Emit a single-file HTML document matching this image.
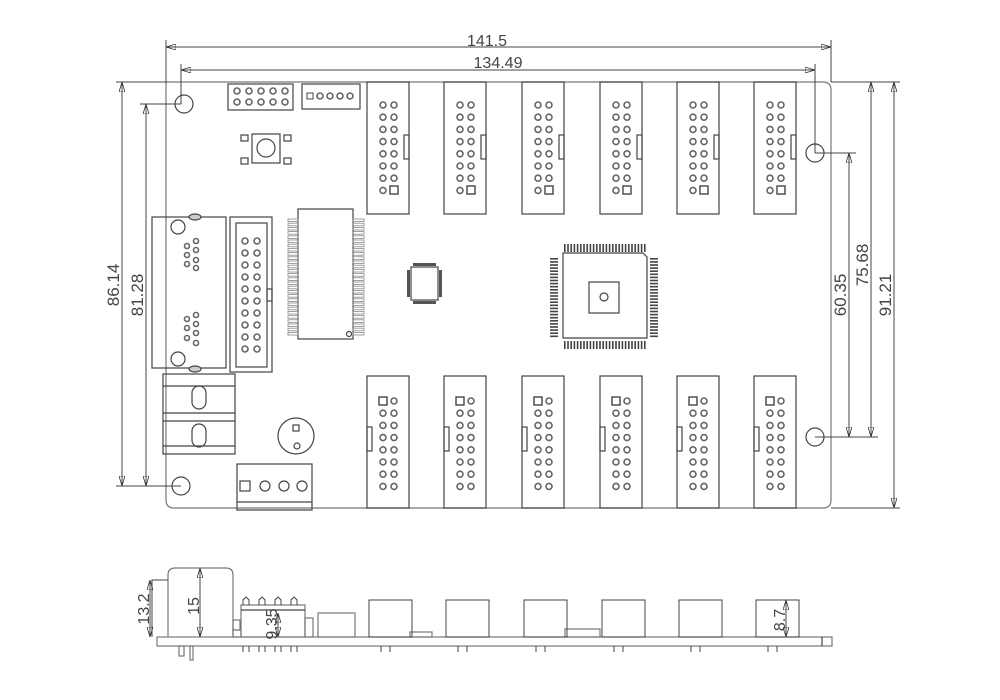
<!DOCTYPE html>
<html><head><meta charset="utf-8"><style>
html,body{margin:0;padding:0;background:#fff}
svg{display:block}
text{font-family:"Liberation Sans",sans-serif;fill:#444}
</style></head><body>
<svg id="s" width="1000" height="700" viewBox="0 0 1000 700" xmlns="http://www.w3.org/2000/svg">
<defs>
<marker id="a" viewBox="0 0 10 6" refX="10" refY="3" markerWidth="10" markerHeight="6" orient="auto-start-reverse" markerUnits="userSpaceOnUse"><path d="M0,0L10,3L0,6z" fill="none" stroke="#333" stroke-width="0.8"/></marker>
</defs>
<g fill="none" stroke="#444" stroke-width="1.2">
<path d="M166,82 H823 Q831,82 831,90 V500 Q831,508 823,508 H174 Q166,508 166,500 Z" stroke="#777"/>
<line x1="166" y1="40" x2="166" y2="82" stroke-width="1"/>
<line x1="831" y1="40" x2="831" y2="82" stroke-width="1"/>
<line x1="166" y1="47" x2="831" y2="47" stroke-width="1" marker-start="url(#a)" marker-end="url(#a)"/>
<line x1="181" y1="64" x2="181" y2="104" stroke-width="1"/>
<line x1="815" y1="64" x2="815" y2="153" stroke-width="1"/>
<line x1="181" y1="70" x2="815" y2="70" stroke-width="1" marker-start="url(#a)" marker-end="url(#a)"/>
<line x1="116" y1="82" x2="166" y2="82" stroke-width="1"/>
<line x1="116" y1="486" x2="181" y2="486" stroke-width="1"/>
<line x1="140" y1="104" x2="181" y2="104" stroke-width="1"/>
<line x1="122" y1="82" x2="122" y2="486" stroke-width="1" marker-start="url(#a)" marker-end="url(#a)"/>
<line x1="146" y1="104" x2="146" y2="486" stroke-width="1" marker-start="url(#a)" marker-end="url(#a)"/>
<line x1="815" y1="153" x2="856" y2="153" stroke-width="1"/>
<line x1="815" y1="437" x2="878" y2="437" stroke-width="1"/>
<line x1="831" y1="82" x2="900" y2="82" stroke-width="1"/>
<line x1="831" y1="508" x2="900" y2="508" stroke-width="1"/>
<line x1="849" y1="153" x2="849" y2="437" stroke-width="1" marker-start="url(#a)" marker-end="url(#a)"/>
<line x1="871" y1="82" x2="871" y2="437" stroke-width="1" marker-start="url(#a)" marker-end="url(#a)"/>
<line x1="894" y1="82" x2="894" y2="508" stroke-width="1" marker-start="url(#a)" marker-end="url(#a)"/>
<circle cx="184" cy="104" r="9"/><circle cx="815" cy="153" r="9"/>
<circle cx="181" cy="486" r="9"/><circle cx="815" cy="437" r="9"/>
<rect x="228" y="84" width="65" height="26"/>
<rect x="302" y="84" width="58" height="25"/>
<rect x="252" y="134" width="28" height="29"/><circle cx="266" cy="148" r="9"/>
<rect x="241" y="135" width="7" height="6"/><rect x="284" y="135" width="7" height="6"/>
<rect x="241" y="158" width="7" height="6"/><rect x="284" y="158" width="7" height="6"/>
<rect x="152" y="217" width="74" height="151"/>
<circle cx="178" cy="227" r="7"/><circle cx="178" cy="359" r="7"/>
<ellipse cx="195" cy="217" rx="6" ry="3" fill="#ccc"/><ellipse cx="195" cy="369" rx="6" ry="3" fill="#ccc"/>
<rect x="230" y="217" width="42" height="155"/><rect x="236" y="223" width="31" height="144"/>
<rect x="267" y="289" width="5" height="12"/>
<rect x="298" y="209" width="55" height="130"/><circle cx="349" cy="334" r="2.5"/>
<rect x="411" y="267" width="27" height="33"/>
<path d="M563,253 H643 L647,257 V338 H563 Z"/>
<rect x="589" y="282" width="30" height="31"/><circle cx="604" cy="297" r="4"/>
<rect x="163" y="374" width="72" height="80"/>
<line x1="163" y1="386" x2="235" y2="386"/><line x1="163" y1="413" x2="235" y2="413"/><line x1="163" y1="421" x2="235" y2="421"/><line x1="163" y1="446" x2="235" y2="446"/>
<rect x="192" y="386" width="14" height="23" rx="7"/><rect x="192" y="424" width="14" height="23" rx="7"/>
<circle cx="296" cy="436" r="18"/><rect x="293" y="425" width="6" height="6"/><circle cx="297" cy="446" r="3"/>
<rect x="237" y="464" width="75" height="46"/><line x1="237" y1="502" x2="312" y2="502"/>
<rect x="240" y="481" width="10" height="10"/>
<circle cx="265" cy="486" r="5"/><circle cx="284" cy="486" r="5"/><circle cx="302" cy="486" r="5"/>
<rect x="157" y="637" width="675" height="9" stroke="#777"/>
<line x1="822" y1="637" x2="822" y2="646"/>
<path d="M168,637 V575 Q168,568 175,568 H226 Q233,568 233,575 V637" stroke="#777"/>
<path d="M168,580 H152 V637" stroke-width="1"/>
<line x1="150" y1="580" x2="150" y2="637" stroke-width="1" marker-start="url(#a)" marker-end="url(#a)"/>
<line x1="200" y1="568" x2="200" y2="637" stroke-width="1" marker-start="url(#a)" marker-end="url(#a)"/>
<rect x="233" y="630" width="8" height="7" stroke="#777"/><rect x="233" y="620" width="7" height="10" stroke="#777"/>
<rect x="241" y="605" width="64" height="32" stroke="#777"/><line x1="241" y1="610" x2="305" y2="610"/>
<line x1="278" y1="613" x2="278" y2="637" stroke-width="1" marker-start="url(#a)" marker-end="url(#a)"/>
<rect x="305" y="618" width="8" height="19" stroke="#777"/>
<rect x="318" y="613" width="37" height="24" stroke="#777"/>
<rect x="410" y="632" width="22" height="5" stroke="#777"/>
<rect x="565" y="629" width="35" height="8" stroke="#777"/>
<line x1="786" y1="600" x2="786" y2="637" stroke-width="1" marker-start="url(#a)" marker-end="url(#a)"/>
<rect x="179" y="646" width="5" height="10" stroke="#777"/><rect x="190" y="646" width="3" height="14" stroke="#777"/>
</g>
<g id="dyn"></g>
<text x="487" y="46" font-size="16" text-anchor="middle">141.5</text>
<text x="498" y="68" font-size="16" text-anchor="middle">134.49</text>
<text transform="translate(119,285) rotate(-90)" font-size="17" text-anchor="middle">86.14</text>
<text transform="translate(143,295) rotate(-90)" font-size="17" text-anchor="middle">81.28</text>
<text transform="translate(846,295) rotate(-90)" font-size="17" text-anchor="middle">60.35</text>
<text transform="translate(868,265) rotate(-90)" font-size="17" text-anchor="middle">75.68</text>
<text transform="translate(891,295) rotate(-90)" font-size="17" text-anchor="middle">91.21</text>
<text transform="translate(149,609) rotate(-90)" font-size="16" text-anchor="middle">13.2</text>
<text transform="translate(199,606) rotate(-90)" font-size="16" text-anchor="middle">15</text>
<text transform="translate(277,624) rotate(-90)" font-size="16" text-anchor="middle">9.35</text>
<text transform="translate(785,620) rotate(-90)" font-size="16" text-anchor="middle">8.7</text>
</svg>
<script>
var g=document.getElementById('dyn'),h='';
function R(x,y,w,hh,f,sw){h+='<rect x="'+x+'" y="'+y+'" width="'+w+'" height="'+hh+'" fill="'+(f||'none')+'" stroke="#444" stroke-width="'+(sw||1.2)+'"/>';}
function C(x,y,r,sw){h+='<circle cx="'+x+'" cy="'+y+'" r="'+r+'" fill="none" stroke="#666" stroke-width="'+(sw||1.6)+'"/>';}
function L(a,b,c,d,s){h+='<line x1="'+a+'" y1="'+b+'" x2="'+c+'" y2="'+d+'" stroke="'+(s||'#666')+'" stroke-width="1"/>';}
var xs=[367,444,522,600,677,754];
xs.forEach(function(x){
 R(x,82,42,132);R(x+37,135,5,24);
 for(var i=0;i<8;i++){var y=105+i*12.2;C(x+16,y,3);if(i<7)C(x+27,y,3);}
 R(x+23,186,8,8,'none',1.4);
 R(x,376,42,132);R(x,427,5,24);
 for(var i=0;i<8;i++){var y=401+i*12.2;if(i>0)C(x+16,y,3);C(x+27,y,3);}
 R(x+12,397,8,8,'none',1.4);
 R(x+2,600,43,37,'none',1);
 L(x+14,646,x+14,652,'#444');L(x+23,646,x+23,652,'#444');
});
for(var i=0;i<5;i++){C(237+i*12,91,3);C(237+i*12,102,3);}
R(307,93,6,6,'none',1);for(var i=1;i<5;i++)C(310+i*10,96,3);
[[196,241],[187,246],[196,250],[187,255],[196,260],[187,264],[196,268]].forEach(function(p){C(p[0],p[1],2.5);});
[[196,315],[187,319],[196,324],[187,328],[196,333],[187,338],[196,343]].forEach(function(p){C(p[0],p[1],2.5);});
for(var i=0;i<10;i++){C(245,241+i*12,3);C(257,241+i*12,3);}
for(var i=0;i<28;i++){var y=219+i*4.2;h+='<rect x="288" y="'+y+'" width="10" height="2.6" fill="none" stroke="#888" stroke-width="0.8"/><rect x="353" y="'+y+'" width="11" height="2.6" fill="none" stroke="#888" stroke-width="0.8"/>';}
h+='<rect x="413" y="263" width="23" height="3" fill="#555"/><rect x="413" y="301" width="23" height="3" fill="#555"/><rect x="407" y="270" width="3" height="27" fill="#555"/><rect x="439" y="270" width="3" height="27" fill="#555"/>';
for(var i=0;i<26;i++){var p=564+i*3.2;h+='<rect x="'+p+'" y="244" width="1.6" height="8" fill="#444"/><rect x="'+p+'" y="341" width="1.6" height="8" fill="#444"/>';var q=258+i*3.1;h+='<rect x="550" y="'+q+'" width="8" height="1.6" fill="#444"/><rect x="650" y="'+q+'" width="8" height="1.6" fill="#444"/>';}
[246,262,278,294].forEach(function(x){h+='<path d="M'+(x-3)+',605 V600 L'+x+',597 L'+(x+3)+',600 V605" fill="none" stroke="#444" stroke-width="1"/>';L(x-3,646,x-3,652,'#444');L(x+3,646,x+3,652,'#444');});
g.innerHTML=h;
</script>
</body></html>
